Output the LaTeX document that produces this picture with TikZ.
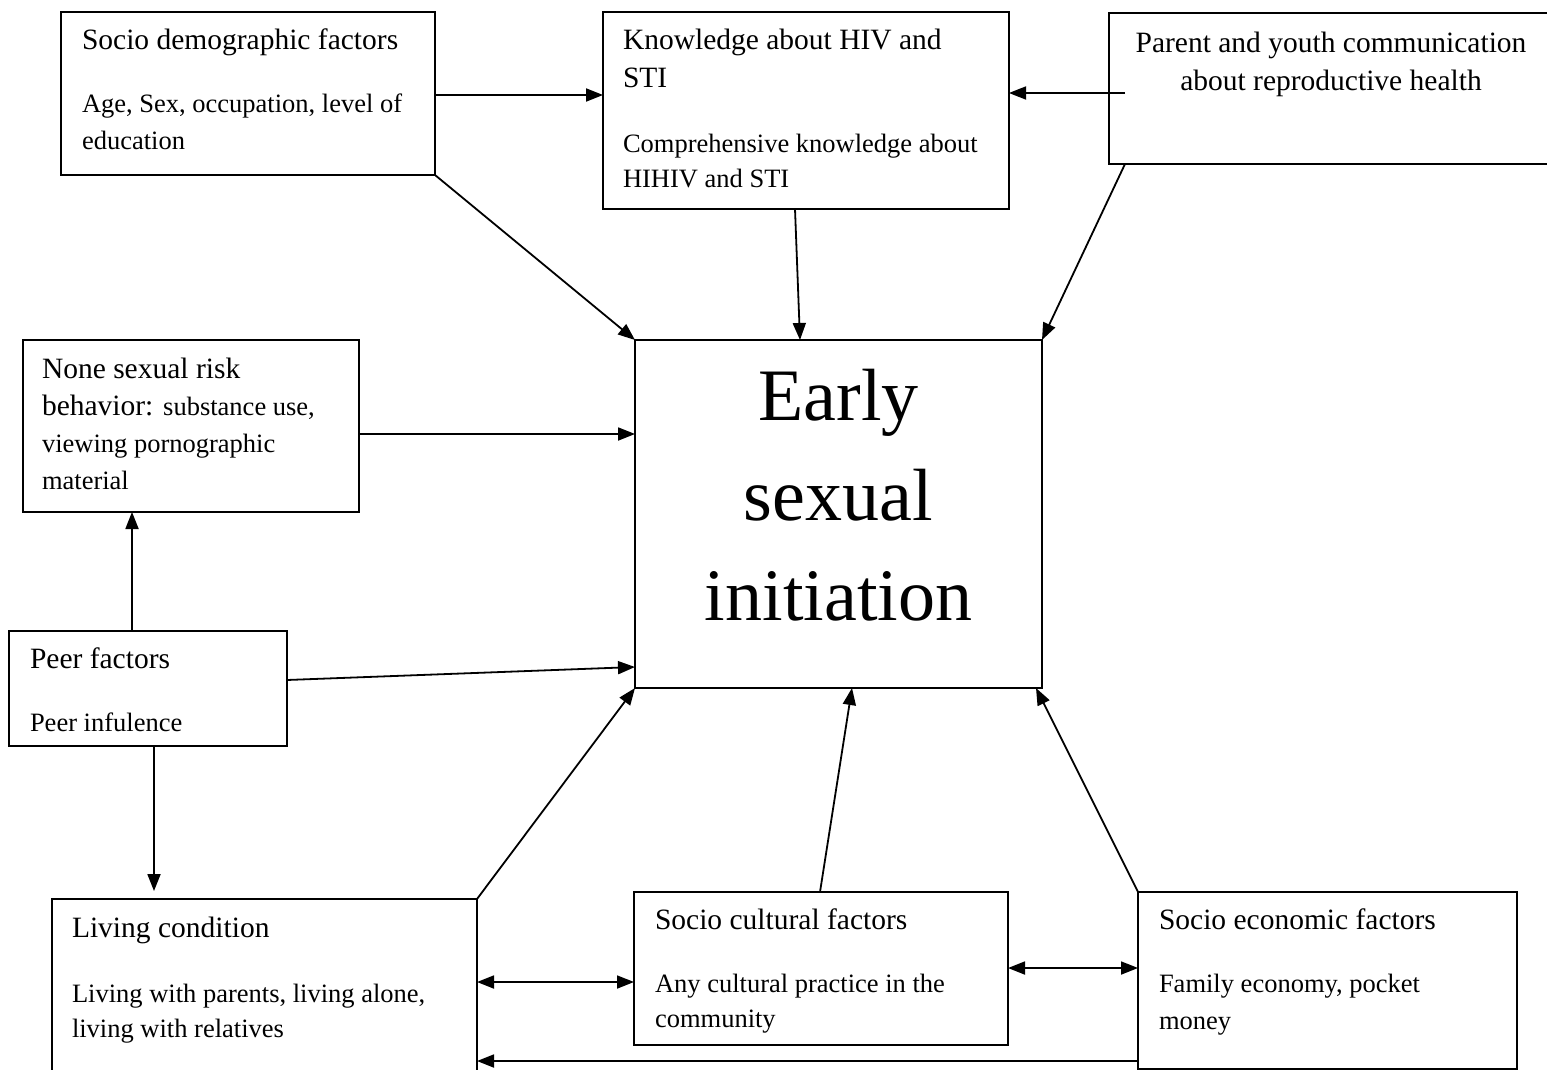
\documentclass[tikz,border=0pt]{standalone}
\usepackage{fontspec}
\setmainfont{Liberation Serif}
\usetikzlibrary{arrows.meta,calc}
\newcommand\myhd{\fontsize{29.5}{38}\selectfont}
\newcommand\myds{\fontsize{26.5}{37}\selectfont}
\begin{document}
\begin{tikzpicture}[x=1pt,y=-1pt,
  box/.style={draw,line width=2pt,rectangle,inner sep=0pt,outer sep=0pt,anchor=north west},
  txt/.style={inner sep=0pt,outer sep=0pt,anchor=base west},
  ctxt/.style={inner sep=0pt,outer sep=0pt,anchor=base},
  arr/.style={line width=1.8pt,-{Triangle[length=17pt,width=13pt]}},
  darr/.style={line width=1.8pt,{Triangle[length=17pt,width=13pt]}-{Triangle[length=17pt,width=13pt]}}]
\useasboundingbox (0,0) rectangle (1547,1070);
\fill[white] (0,0) rectangle (1547,1070);
% boxes
\node[box,minimum width=374pt,minimum height=163pt] (sd) at (61,12) {};
\node[box,minimum width=406pt,minimum height=197pt] (kn) at (603,12) {};
\node[box,minimum width=460pt,minimum height=151pt] (par) at (1109,13) {};
\node[box,minimum width=336pt,minimum height=172pt] (none) at (23,340) {};
\node[box,minimum width=278pt,minimum height=115pt] (peer) at (9,631) {};
\node[box,minimum width=407pt,minimum height=348pt] (early) at (635,340) {};
\node[box,minimum width=425pt,minimum height=190pt] (liv) at (52,899) {};
\node[box,minimum width=374pt,minimum height=153pt] (cul) at (634,892) {};
\node[box,minimum width=379pt,minimum height=177pt] (eco) at (1138,892) {};
% texts
\node[txt] (sdh) at (82,50) {\myhd Socio demographic factors};
\node[txt] (sdd) at (82,113) {\parbox[t]{350pt}{\raggedright\myds Age, Sex, occupation, level of\\education}};
\node[txt] (knh) at (623,50) {\parbox[t]{380pt}{\raggedright\myhd Knowledge about HIV and\\STI}};
\node[txt] (knd) at (623,153) {\parbox[t]{380pt}{\raggedright\fontsize{26.5}{35}\selectfont Comprehensive knowledge about\\HIHIV and STI}};
\node[ctxt] (parh) at (1331,53) {\parbox[t]{430pt}{\centering\myhd Parent and youth communication\\about reproductive health}};
\node[txt] (noneh) at (42,378) {\parbox[t]{320pt}{\raggedright\fontsize{29.5}{37}\selectfont None sexual risk\\behavior: {\myds substance use,}\\{\myds viewing pornographic}\\{\myds material}}};
\node[txt] (peerh) at (30,668) {\myhd Peer factors};
\node[txt] (peerd) at (30,731) {\myds Peer infulence};
\node[ctxt] (earlyh) at (838.5,420) {\parbox[t]{400pt}{\centering\fontsize{74}{100}\selectfont Early\\sexual\\initiation}};
\node[txt] (livh) at (72,937) {\myhd Living condition};
\node[txt] (livd) at (72,1002) {\parbox[t]{400pt}{\raggedright\fontsize{26.5}{35}\selectfont Living with parents, living alone,\\living with relatives}};
\node[txt] (culh) at (655,929) {\myhd Socio cultural factors};
\node[txt] (culd) at (655,992) {\parbox[t]{350pt}{\raggedright\fontsize{26.5}{35}\selectfont Any cultural practice in the\\community}};
\node[txt] (ecoh) at (1159,929) {\myhd Socio economic factors};
\node[txt] (ecod) at (1159,992) {\parbox[t]{350pt}{\raggedright\myds Family economy, pocket\\money}};
% connectors
\draw[arr] ($(sd.north east)+(0,83)$) -- ($(kn.north west)+(0,83)$);
\draw[arr] ($(par.north west)+(16,80)$) -- ($(kn.north east)+(0,81)$);
\draw[arr] (sd.south east) -- (early.north west);
\draw[arr] ($(kn.south west)+(192,0)$) -- ($(early.north west)+(165,0)$);
\draw[arr] ($(par.south west)+(16,0)$) -- (early.north east);
\draw[arr] ($(none.north east)+(0,94)$) -- ($(early.north west)+(0,94)$);
\draw[arr] ($(peer.north east)+(0,49)$) -- ($(early.north west)+(0,327)$);
\draw[arr] ($(peer.north west)+(123,0)$) -- ($(none.south west)+(109,0)$);
\draw[arr] ($(peer.south west)+(145,0)$) -- ($(liv.north west)+(102,-8)$);
\draw[arr] (liv.north east) -- (early.south west);
\draw[arr] ($(cul.north west)+(186,0)$) -- ($(early.south west)+(217,0)$);
\draw[arr] (eco.north west) -- ($(early.south east)+(-6,0)$);
\draw[darr] ($(liv.north east)+(0,83)$) -- ($(cul.north west)+(0,90)$);
\draw[darr] ($(cul.north east)+(0,76)$) -- ($(eco.north west)+(0,76)$);
\draw[arr] ($(eco.north west)+(0,169)$) -- ($(liv.north east)+(0,162)$);
\end{tikzpicture}
\end{document}
